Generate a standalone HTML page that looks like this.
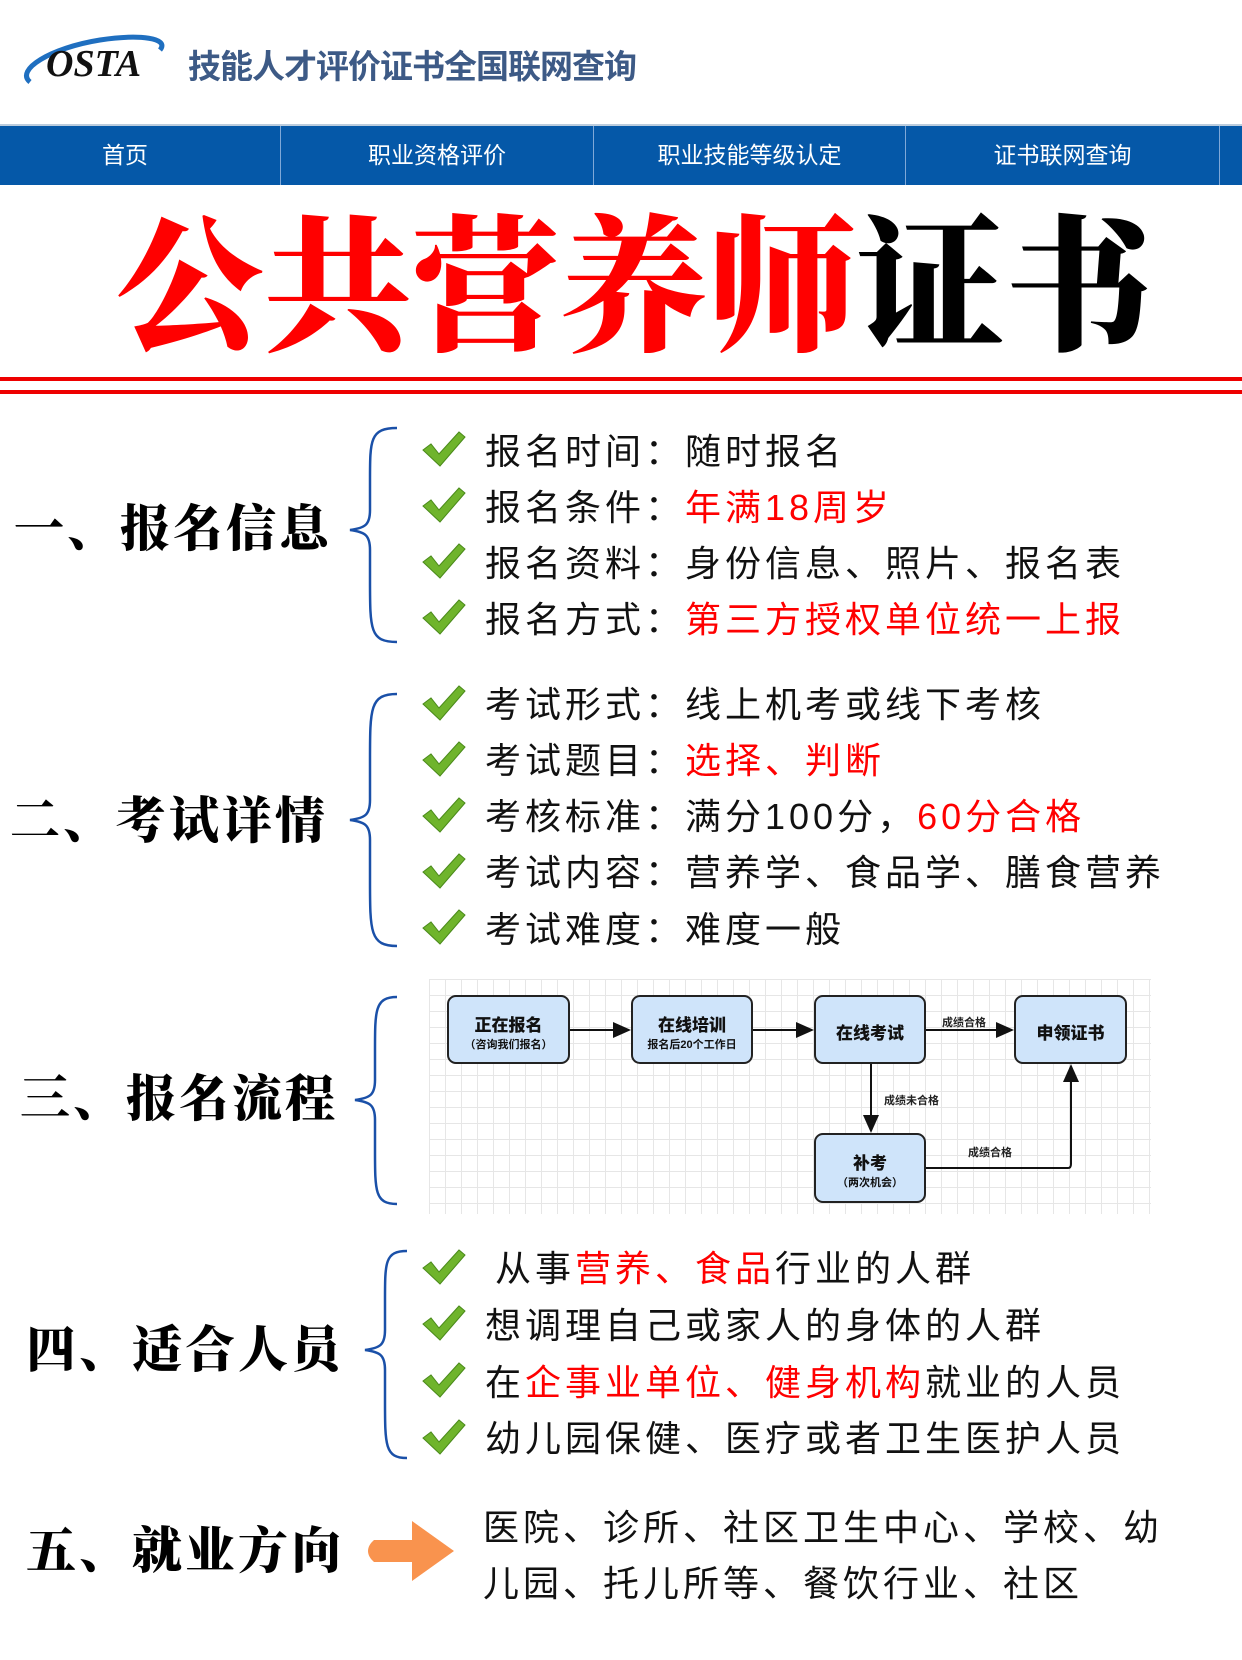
<!DOCTYPE html>
<html><head><meta charset="utf-8">
<style>
*{margin:0;padding:0;box-sizing:border-box}
body{width:1242px;height:1660px;background:#fff;position:relative;overflow:hidden;font-family:"Liberation Sans","Noto Sans CJK SC",sans-serif}
.a{position:absolute;white-space:nowrap}
.nav{position:absolute;top:124px;left:0;width:1242px;height:61px;background:#0558a8;border-top:2px solid #bcd;}
.nav div{position:absolute;top:0;height:59px;line-height:59px;color:#fff;font-size:23px;text-align:center;border-right:1.5px solid #7fa8d8}
.title{position:absolute;left:116px;top:205px;font-family:"Liberation Serif","Noto Serif CJK SC",serif;font-weight:900;font-size:148px;line-height:170px;letter-spacing:0px;color:#f00}
.h{position:absolute;font-family:"Liberation Serif","Noto Serif CJK SC",serif;font-weight:900;font-size:50px;letter-spacing:3px;line-height:60px;color:#000}
.r{position:absolute;left:485px;font-size:36px;letter-spacing:4px;line-height:44px;color:#111}
.red{color:#f00}
.ck{position:absolute;left:421px;width:48px;height:42px}
.box{position:absolute;background:#cfe4fa;border:2px solid #222;border-radius:9px;text-align:center;font-weight:bold;color:#111}
.box b{display:block;font-size:17px}
.box span{display:block;font-size:11px}
.lbl{position:absolute;font-size:11px;font-weight:bold;color:#222}
</style></head><body>
<svg class="a" style="left:20px;top:30px" width="150" height="62" viewBox="0 0 150 62">
<path d="M10 52 C-5 40 30 18 80 10 C120 4 150 8 140 20" fill="none" stroke="#1f6fc0" stroke-width="5"/>
<text x="26" y="46" font-family="Liberation Serif,serif" font-style="italic" font-weight="bold" font-size="38" fill="#111">OSTA</text>
</svg>
<div class="a" style="left:188px;top:40px;font-size:33px;font-weight:bold;color:#3d5a86;letter-spacing:-1px">技能人才评价证书全国联网查询</div>
<div class="nav">
<div style="left:0;width:281px;padding-right:30px">首页</div>
<div style="left:281px;width:313px">职业资格评价</div>
<div style="left:594px;width:312px">职业技能等级认定</div>
<div style="left:906px;width:314px">证书联网查询</div>
</div>
<div class="title">公共营养师<span style="color:#000">证书</span></div>
<div class="a" style="left:0;top:377px;width:1242px;height:4px;background:#e00"></div>
<div class="a" style="left:0;top:390px;width:1242px;height:4px;background:#e00"></div>

<svg class="a" style="left:0;top:0" width="1242" height="1660">
<defs>
<g id="c"><path d="M2 20 L10 14 L18 24 L38 2 L44 7 L19 36 Z" fill="#6fb42c" stroke="#4a8a1a" stroke-width="1"/></g>
</defs>
<g fill="none" stroke="#1a50a8" stroke-width="2.5">
<path d="M397 428 C370 428 370 440 370 480 L370 510 C370 525 365 528 350 530 C365 532 370 535 370 550 L370 580 C370 630 370 642 397 642"/>
<path d="M397 694 C370 694 370 708 370 760 L370 800 C370 815 365 818 350 820 C365 822 370 825 370 840 L370 880 C370 932 370 946 397 946"/>
<path d="M397 997 C375 997 375 1010 375 1050 L375 1080 C375 1095 370 1098 355 1100 C370 1102 375 1105 375 1120 L375 1150 C375 1192 375 1204 397 1204"/>
<path d="M407 1251 C385 1251 385 1262 385 1300 L385 1330 C385 1345 380 1348 365 1350 C380 1352 385 1355 385 1370 L385 1400 C385 1446 385 1458 407 1458"/>
</g>
<path d="M374 1540 L412 1540 L412 1521 L454 1551 L412 1581 L412 1562 L374 1562 C366 1555 366 1547 374 1540 Z" fill="#f9934e"/>
</svg>

<div class="h" style="left:14px;top:499px">一、报名信息</div>
<div class="h" style="left:10px;top:791px">二、考试详情</div>
<div class="h" style="left:20px;top:1069px">三、报名流程</div>
<div class="h" style="left:26px;top:1320px">四、适合人员</div>
<div class="h" style="left:26px;top:1521px">五、就业方向</div>

<svg class="ck" style="top:430px" viewBox="0 0 48 42"><use href="#c"/></svg>
<svg class="ck" style="top:486px" viewBox="0 0 48 42"><use href="#c"/></svg>
<svg class="ck" style="top:542px" viewBox="0 0 48 42"><use href="#c"/></svg>
<svg class="ck" style="top:598px" viewBox="0 0 48 42"><use href="#c"/></svg>
<div class="r" style="top:430px">报名时间：随时报名</div>
<div class="r" style="top:486px">报名条件：<span class="red">年满18周岁</span></div>
<div class="r" style="top:542px">报名资料：身份信息、照片、报名表</div>
<div class="r" style="top:598px">报名方式：<span class="red">第三方授权单位统一上报</span></div>

<svg class="ck" style="top:684px" viewBox="0 0 48 42"><use href="#c"/></svg>
<svg class="ck" style="top:740px" viewBox="0 0 48 42"><use href="#c"/></svg>
<svg class="ck" style="top:796px" viewBox="0 0 48 42"><use href="#c"/></svg>
<svg class="ck" style="top:852px" viewBox="0 0 48 42"><use href="#c"/></svg>
<svg class="ck" style="top:908px" viewBox="0 0 48 42"><use href="#c"/></svg>
<div class="r" style="top:683px">考试形式：线上机考或线下考核</div>
<div class="r" style="top:739px">考试题目：<span class="red">选择、判断</span></div>
<div class="r" style="top:795px">考核标准：满分100分，<span class="red">60分合格</span></div>
<div class="r" style="top:851px">考试内容：营养学、食品学、膳食营养</div>
<div class="r" style="top:908px">考试难度：难度一般</div>

<svg class="ck" style="top:1248px" viewBox="0 0 48 42"><use href="#c"/></svg>
<svg class="ck" style="top:1304px" viewBox="0 0 48 42"><use href="#c"/></svg>
<svg class="ck" style="top:1361px" viewBox="0 0 48 42"><use href="#c"/></svg>
<svg class="ck" style="top:1418px" viewBox="0 0 48 42"><use href="#c"/></svg>
<div class="r" style="top:1247px;left:495px">从事<span class="red">营养、食品</span>行业的人群</div>
<div class="r" style="top:1304px">想调理自己或家人的身体的人群</div>
<div class="r" style="top:1361px">在<span class="red">企事业单位、健身机构</span>就业的人员</div>
<div class="r" style="top:1417px">幼儿园保健、医疗或者卫生医护人员</div>

<div class="r" style="top:1506px;left:483px">医院、诊所、社区卫生中心、学校、幼</div>
<div class="r" style="top:1562px;left:483px">儿园、托儿所等、餐饮行业、社区</div>

<div class="a" style="left:429px;top:979px;width:722px;height:235px;background-color:#fff;background-image:linear-gradient(#e6e6e6 1px,transparent 1px),linear-gradient(90deg,#e6e6e6 1px,transparent 1px);background-size:16px 16px"></div>
<svg class="a" style="left:0;top:0" width="1242" height="1660">
<defs><marker id="ar" markerWidth="10" markerHeight="10" refX="8" refY="5" orient="auto"><path d="M0 1 L9 5 L0 9 Z" fill="#111"/></marker></defs>
<g stroke="#111" stroke-width="2" fill="none" marker-end="url(#ar)">
<line x1="570" y1="1030" x2="629" y2="1030"/>
<line x1="753" y1="1030" x2="812" y2="1030"/>
<line x1="926" y1="1030" x2="1012" y2="1030"/>
<line x1="871" y1="1064" x2="871" y2="1131"/>
<path d="M926 1168 L1068 1168 Q1071 1168 1071 1164 L1071 1066"/>
</g>
</svg>
<div class="box" style="left:447px;top:995px;width:123px;height:69px;padding-top:14px"><b>正在报名</b><span>（咨询我们报名）</span></div>
<div class="box" style="left:631px;top:995px;width:122px;height:69px;padding-top:14px"><b>在线培训</b><span>报名后20个工作日</span></div>
<div class="box" style="left:814px;top:995px;width:112px;height:69px;padding-top:22px"><b>在线考试</b></div>
<div class="box" style="left:1014px;top:995px;width:113px;height:69px;padding-top:22px"><b>申领证书</b></div>
<div class="box" style="left:814px;top:1133px;width:112px;height:70px;padding-top:14px"><b>补考</b><span>（两次机会）</span></div>
<div class="lbl" style="left:942px;top:1014px">成绩合格</div>
<div class="lbl" style="left:884px;top:1092px">成绩未合格</div>
<div class="lbl" style="left:968px;top:1144px">成绩合格</div>
</body></html>
